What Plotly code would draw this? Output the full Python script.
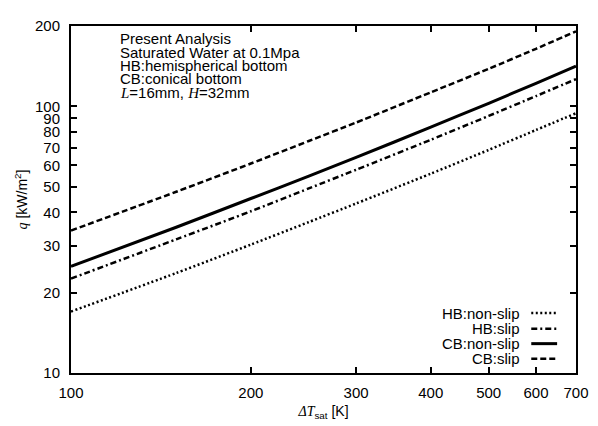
import plotly.graph_objects as go

# Data
dT_sat = [100, 150, 200, 250, 300, 400, 500, 600, 700]
hb_nonslip = [17.0, 23.7, 30.3, 36.8, 43.2, 55.9, 68.6, 81.5, 94.2]
hb_slip = [22.6, 31.7, 40.4, 49.2, 57.8, 74.9, 92.0, 109.2, 126.4]
cb_nonslip = [25.1, 35.2, 45.1, 54.7, 64.3, 83.5, 102.6, 122.0, 141.4]
cb_slip = [34.2, 47.8, 61.0, 74.1, 86.9, 112.8, 138.2, 164.3, 191.0]

x_ticks = [100, 200, 300, 400, 500, 600, 700]
y_ticks = [10, 20, 30, 40, 50, 60, 70, 80, 90, 100, 200]

series_names = ["HB:non-slip", "HB:slip", "CB:non-slip", "CB:slip"]
series_values = [hb_nonslip, hb_slip, cb_nonslip, cb_slip]
dashes = ["2px,2.5px", "6px,3px,2px,3px", "solid", "6px,3px"]
widths = [2.5, 2.5, 3, 2.5]

info_lines = [
    "Present Analysis",
    "Saturated Water at 0.1Mpa",
    "HB:hemispherical bottom",
    "CB:conical bottom",
    "<span style='font-family:Liberation Serif'><i>L</i></span>=16mm, "
    "<span style='font-family:Liberation Serif'><i>H</i></span>=32mm",
]

FONT = "Liberation Sans, Arial, sans-serif"
OFF = 8  # default page body margin
W, H = 598 - OFF, 426 - OFF
# target plot box in page pixels: left 71, right 579, top 17, bottom 374
L, R, T, B = 71 - OFF, 598 - 579, 17 - OFF, 426 - 374
PW, PH = W - L - R, H - T - B


def px(xp):
    return (xp - OFF - L) / PW


def py(yp):
    return (H - B - (yp - OFF)) / PH


fig = go.Figure()
for name, vals, d, w in zip(series_names, series_values, dashes, widths):
    fig.add_trace(go.Scatter(
        x=dT_sat, y=vals, mode="lines", name=name,
        line=dict(color="black", width=w, dash=d, shape="spline", smoothing=0.6),
        showlegend=False,
    ))

annotations = []
for i, t in enumerate(info_lines):
    annotations.append(dict(
        xref="paper", yref="paper", x=px(118), y=py(30 + i * 13.8),
        xanchor="left", yanchor="middle", text=t, showarrow=False,
        font=dict(family=FONT, size=15, color="black"),
    ))

shapes = []
legend_y = [312.3, 328.5, 343.8, 359.3]
for name, d, w, yy in zip(series_names, dashes, widths, legend_y):
    annotations.append(dict(
        xref="paper", yref="paper", x=px(525), y=py(yy),
        xanchor="right", yanchor="middle", text=name, showarrow=False,
        font=dict(family=FONT, size=15, color="black"),
    ))
    shapes.append(dict(
        type="line", xref="paper", yref="paper",
        x0=px(534), x1=px(560), y0=py(yy), y1=py(yy),
        line=dict(color="black", width=w, dash=d),
    ))

axis_common = dict(
    type="log", showline=True, linecolor="black", linewidth=2, mirror="ticks",
    ticks="inside", ticklen=6, tickwidth=1.5, tickcolor="black",
    showgrid=False, zeroline=False,
    tickfont=dict(family=FONT, size=15, color="black"),
)

fig.update_layout(
    width=W, height=H,
    margin=dict(l=L, r=R, t=T, b=B),
    paper_bgcolor="white", plot_bgcolor="white",
    showlegend=False,
    annotations=annotations,
    shapes=shapes,
    xaxis=dict(
        **axis_common,
        range=[2, 2.845098],
        tickvals=x_ticks, ticktext=[str(v) for v in x_ticks],
        ticklabelstandoff=5,
        title=dict(
            text="<span style='font-family:Liberation Serif'><i>ΔT</i></span><sub>sat</sub> [K]",
            font=dict(family=FONT, size=14, color="black"), standoff=6,
        ),
    ),
    yaxis=dict(
        **axis_common,
        range=[1, 2.30103],
        tickvals=y_ticks, ticktext=[str(v) for v in y_ticks],
        ticklabelstandoff=6,
        title=dict(
            text="<span style='font-family:Liberation Serif'><i>q</i></span> [kW/m<sup>2</sup>]",
            font=dict(family=FONT, size=14, color="black"), standoff=4,
        ),
    ),
)

fig.write_html("out.html")
